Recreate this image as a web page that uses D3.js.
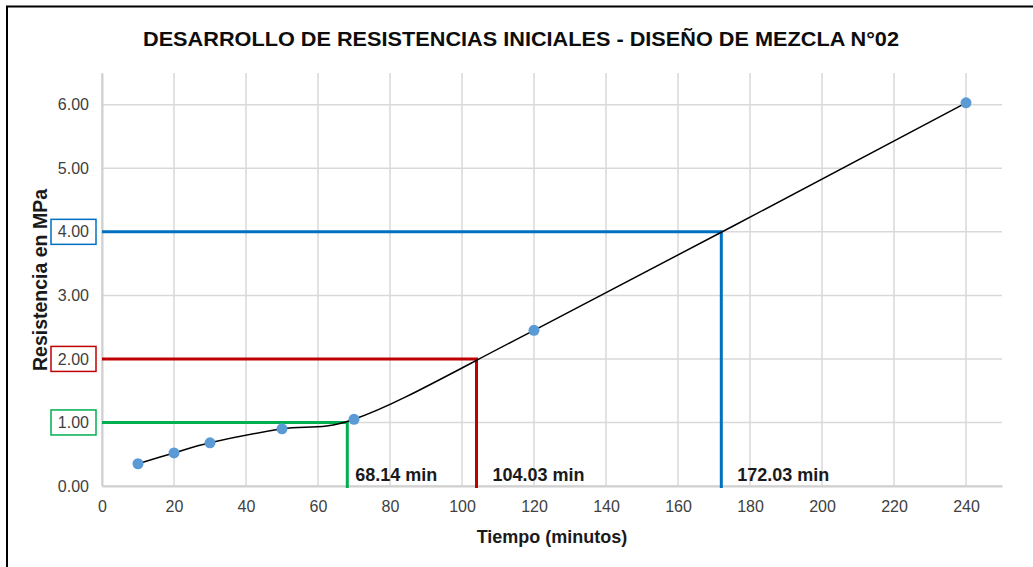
<!DOCTYPE html>
<html>
<head>
<meta charset="utf-8">
<script src="https://cdn.jsdelivr.net/npm/d3@7"></script>
<style>
  body { margin: 0; background: #fff; }
  text { font-family: "Liberation Sans", Arial, sans-serif; }
</style>
</head>
<body>
<svg id="chart" width="1033" height="567"></svg>
<script>
// data
var tiempo = [10, 20, 30, 50, 70, 120, 240];
var resistencia = [0.35, 0.52, 0.68, 0.90, 1.05, 2.45, 6.03];
var xTicks = [0, 20, 40, 60, 80, 100, 120, 140, 160, 180, 200, 220, 240];
var yTicks = [0, 1, 2, 3, 4, 5, 6];
var refValues = [1, 2, 4];
var refTimes = [68.14, 104.03, 172.03];
var refLabels = ["68.14 min", "104.03 min", "172.03 min"];
var refColors = ["#00b050", "#c00000", "#0070c0"];
var refLabelDx = [8, 16, 16];

var title = "DESARROLLO DE RESISTENCIAS INICIALES - DISEÑO DE MEZCLA N°02";

var svg = d3.select("#chart"),
  margin = {top: 73, right: 31, bottom: 81, left: 102},
  width = +svg.attr("width") - margin.left - margin.right,
  height = +svg.attr("height") - margin.top - margin.bottom,
  g = svg.append("g").attr("transform", "translate(" + margin.left + "," + margin.top + ")");

// outer frame (only top and left show in the picture)
svg.append("line").attr("x1", 6).attr("x2", 1033).attr("y1", 6.5).attr("y2", 6.5)
  .style("stroke", "#000").style("stroke-width", 2);
svg.append("line").attr("x1", 7).attr("x2", 7).attr("y1", 6).attr("y2", 567)
  .style("stroke", "#000").style("stroke-width", 2);

svg.append("text")
  .attr("x", 521)
  .attr("y", 46)
  .attr("text-anchor", "middle")
  .style("font-size", "21px")
  .style("font-weight", "bold")
  .style("fill", "#0d0d0d")
  .attr("textLength", 756)
  .attr("lengthAdjust", "spacingAndGlyphs")
  .text(title);

var x = d3.scaleLinear().domain([0, 250]).range([0, width]);
var y = d3.scaleLinear().domain([0, 6.5]).range([height, 0]);

// grid
g.append("g").selectAll("line").data(xTicks).enter().append("line")
  .attr("x1", function(d) { return x(d); }).attr("x2", function(d) { return x(d); })
  .attr("y1", 0).attr("y2", height)
  .style("stroke", "#d9d9d9").style("stroke-width", 1.5);
g.append("g").selectAll("line").data(yTicks).enter().append("line")
  .attr("x1", 0).attr("x2", width)
  .attr("y1", function(d) { return y(d); }).attr("y2", function(d) { return y(d); })
  .style("stroke", "#d9d9d9").style("stroke-width", 1.5);

// axes
var xAxis = d3.axisBottom(x).tickValues(xTicks).tickSize(0).tickPadding(15);
var gx = g.append("g").attr("transform", "translate(0," + height + ")").call(xAxis);
gx.select(".domain").style("stroke", "#d0d0d0").style("stroke-width", 2);
gx.selectAll("text").style("font-size", "16px").style("fill", "#404040");

var yAxis = d3.axisLeft(y).tickValues(yTicks).tickSize(0).tickPadding(13)
  .tickFormat(d3.format(".2f"));
var gy = g.append("g").call(yAxis);
gy.select(".domain").style("stroke", "#d0d0d0").style("stroke-width", 2);
gy.selectAll("text").style("font-size", "16px").style("fill", "#404040");

// boxes round the matching tick labels
refValues.forEach(function(v, i) {
  g.append("rect")
    .attr("x", -51).attr("y", y(v) - 12.5)
    .attr("width", 45).attr("height", 25)
    .style("fill", "none")
    .style("stroke", refColors[i])
    .style("stroke-width", 1.5);
});

// reference lines
refValues.forEach(function(v, i) {
  g.append("path")
    .attr("d", "M0," + y(v) + "H" + x(refTimes[i]) + "V" + (height + 2))
    .style("fill", "none")
    .style("stroke", refColors[i])
    .style("stroke-width", 3);
  g.append("text")
    .attr("x", x(refTimes[i]) + refLabelDx[i])
    .attr("y", height - 5)
    .style("font-size", "18px")
    .style("font-weight", "bold")
    .style("fill", "#1a1a1a")
    .text(refLabels[i]);
});

// smoothed curve
var points = tiempo.map(function(t, i) { return [t, resistencia[i]]; });
var line = d3.line()
  .x(function(d) { return x(d[0]); })
  .y(function(d) { return y(d[1]); })
  .curve(d3.curveCatmullRom.alpha(0.25));

g.append("path")
  .datum(points)
  .attr("d", line)
  .style("fill", "none")
  .style("stroke", "#000")
  .style("stroke-width", 1.5);

g.append("g").selectAll("circle").data(points).enter().append("circle")
  .attr("cx", function(d) { return x(d[0]); })
  .attr("cy", function(d) { return y(d[1]); })
  .attr("r", 5.5)
  .style("fill", "#5b9bd5");

// axis titles
svg.append("text")
  .attr("x", 552)
  .attr("y", 543)
  .attr("text-anchor", "middle")
  .style("font-size", "18px")
  .style("font-weight", "bold")
  .style("fill", "#1a1a1a")
  .text("Tiempo (minutos)");

svg.append("text")
  .attr("transform", "translate(47,280) rotate(-90)")
  .attr("text-anchor", "middle")
  .style("font-size", "19.5px")
  .style("font-weight", "bold")
  .style("fill", "#1a1a1a")
  .text("Resistencia en MPa");
</script>
</body>
</html>
